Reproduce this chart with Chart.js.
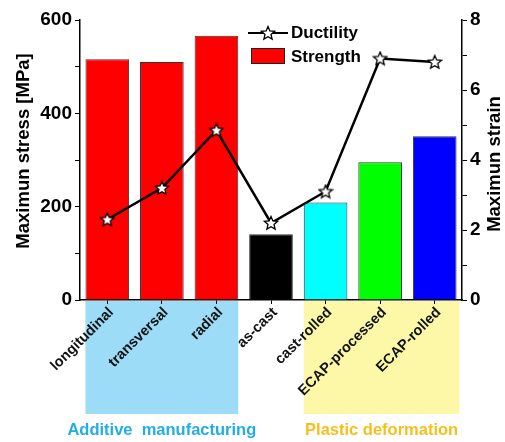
<!DOCTYPE html>
<html>
<head>
<meta charset="utf-8">
<script src="https://cdn.jsdelivr.net/npm/chart.js@4/dist/chart.umd.min.js"></script>
<style>
  html, body { margin: 0; padding: 0; background: #fff; }
  #wrap { width: 505px; height: 442px; position: relative; }
</style>
</head>
<body>
<div id="wrap"><canvas id="c" width="505" height="442"></canvas></div>
<script>
// Processing routes and measured properties
const categories = ['longitudinal', 'transversal', 'radial', 'as-cast', 'cast-rolled', 'ECAP-processed', 'ECAP-rolled'];
const strength = [516, 510, 566, 141, 209, 295, 351];      // MPa
const ductility = [2.3, 3.2, 4.85, 2.2, 3.1, 6.9, 6.8];     // strain
const stressTicks = [0, 200, 400, 600];
const strainTicks = [0, 2, 4, 6, 8];
const groupNames = ['Additive  manufacturing', 'Plastic deformation'];
const groupSpans = [[0, 2], [4, 6]];   // first and last category index of each group

const barColors = ['#ff0000', '#ff0000', '#ff0000', '#000000', '#00ffff', '#00ff00', '#0000ff'];
const groupFill = ['#9cdcf7', '#fcf8a8'];
const groupText = ['#22ade4', '#f6c01c'];
const FONT = "'Liberation Sans', Arial, sans-serif";

Chart.defaults.font.family = FONT;
Chart.defaults.font.weight = 'bold';
Chart.defaults.color = '#000';

// open five-pointed star marker
function makeStar(size) {
  const c = document.createElement('canvas');
  c.width = size; c.height = size;
  const g = c.getContext('2d');
  const cx = size / 2, cy = size / 2 + 0.5, R = size / 2 - 1, r = R * 0.45;
  g.beginPath();
  for (let i = 0; i < 10; i++) {
    const rad = i % 2 === 0 ? R : r;
    const a = -Math.PI / 2 + i * Math.PI / 5;
    const x = cx + rad * Math.cos(a), y = cy + rad * Math.sin(a);
    i === 0 ? g.moveTo(x, y) : g.lineTo(x, y);
  }
  g.closePath();
  g.fillStyle = '#fff';
  g.fill();
  g.lineWidth = 1.3;
  g.strokeStyle = '#000';
  g.lineJoin = 'miter';
  g.stroke();
  return c;
}
const star = makeStar(16);

const decor = {
  id: 'decor',
  beforeDraw(chart) {
    const { ctx, chartArea, scales } = chart;
    const xs = scales.x;
    const step = xs.getPixelForValue(1) - xs.getPixelForValue(0);
    ctx.save();
    groupSpans.forEach((span, i) => {
      const x0 = xs.getPixelForValue(span[0]) - step * 0.4;
      const x1 = xs.getPixelForValue(span[1]) + step * 0.4 + (i === 1 ? 3 : 0);
      ctx.fillStyle = groupFill[i];
      ctx.fillRect(x0, chartArea.bottom + 1, x1 - x0, 113);
      ctx.fillStyle = groupText[i];
      ctx.font = 'bold 16.5px ' + FONT;
      ctx.textAlign = 'center';
      ctx.textBaseline = 'middle';
      ctx.fillText(groupNames[i], (x0 + x1) / 2, 430);
    });
    ctx.restore();
  },
  afterDraw(chart) {
    const { ctx, chartArea } = chart;
    const midY = (chartArea.top + chartArea.bottom) / 2;
    ctx.save();
    ctx.fillStyle = '#000';
    ctx.font = 'bold 18.5px ' + FONT;
    ctx.textAlign = 'center';
    ctx.textBaseline = 'middle';
    // axis titles
    ctx.save();
    ctx.translate(24, midY - 9);
    ctx.rotate(-Math.PI / 2);
    ctx.fillText('Maximun stress [MPa]', 0, 0);
    ctx.restore();
    ctx.save();
    ctx.translate(495, midY + 4);
    ctx.rotate(-Math.PI / 2);
    ctx.fillText('Maximun strain', 0, 0);
    ctx.restore();

    // legend
    ctx.font = 'bold 17px ' + FONT;
    ctx.strokeStyle = '#000';
    ctx.lineWidth = 2;
    ctx.beginPath();
    ctx.moveTo(248, 33); ctx.lineTo(288, 33);
    ctx.stroke();
    ctx.drawImage(star, 268 - star.width / 2, 33 - star.height / 2);
    ctx.fillStyle = '#ff0000';
    ctx.fillRect(251, 48, 34, 16);
    ctx.strokeStyle = '#222';
    ctx.lineWidth = 1;
    ctx.strokeRect(251.5, 48.5, 33, 15);
    ctx.fillStyle = '#000';
    ctx.textAlign = 'left';
    ctx.fillText('Ductility', 291, 33);
    ctx.fillText('Strength', 291, 57);
    ctx.restore();
  }
};

new Chart(document.getElementById('c'), {
  data: {
    labels: categories,
    datasets: [
      {
        type: 'line',
        label: 'Ductility',
        data: ductility,
        yAxisID: 'y1',
        borderColor: '#000',
        borderWidth: 2.5,
        pointStyle: star,
        pointRadius: 8,
        tension: 0,
        order: 0
      },
      {
        type: 'bar',
        label: 'Strength',
        data: strength,
        yAxisID: 'y',
        backgroundColor: barColors,
        borderColor: '#333',
        borderWidth: 1,
        barPercentage: 0.8,
        categoryPercentage: 1.0,
        order: 1
      }
    ]
  },
  options: {
    responsive: false,
    devicePixelRatio: 1,
    animation: false,
    layout: { padding: { top: 20, left: 0, right: 0, bottom: 0 } },
    plugins: { legend: { display: false }, tooltip: { enabled: false } },
    scales: {
      x: {
        type: 'category',
        offset: true,
        grid: { display: true, drawOnChartArea: false, offset: false, tickLength: 4, color: '#000' },
        border: { color: '#000', width: 1.5 },
        ticks: { maxRotation: 45, minRotation: 45, padding: 0, labelOffset: 4, font: { size: 14.5, weight: 'bold' }, color: '#111' },
        afterFit(s) { s.height = 142; }
      },
      y: {
        position: 'left',
        min: 0, max: 600,
        grid: { drawOnChartArea: false, tickLength: 5, color: '#000' },
        border: { color: '#000', width: 1.5 },
        ticks: {
          stepSize: 100, padding: 3,
          font: { size: 19, weight: 'bold' },
          callback: v => stressTicks.includes(v) ? String(v) : ''
        },
        afterFit(s) { s.width = 80; }
      },
      y1: {
        position: 'right',
        min: 0, max: 8,
        grid: { drawOnChartArea: false, tickLength: 5, color: '#000' },
        border: { color: '#000', width: 1.5 },
        ticks: {
          stepSize: 1, padding: 3,
          font: { size: 19, weight: 'bold' },
          callback: v => strainTicks.includes(v) ? String(v) : ''
        },
        afterFit(s) { s.width = 43; }
      }
    }
  },
  plugins: [decor]
});
</script>
</body>
</html>
